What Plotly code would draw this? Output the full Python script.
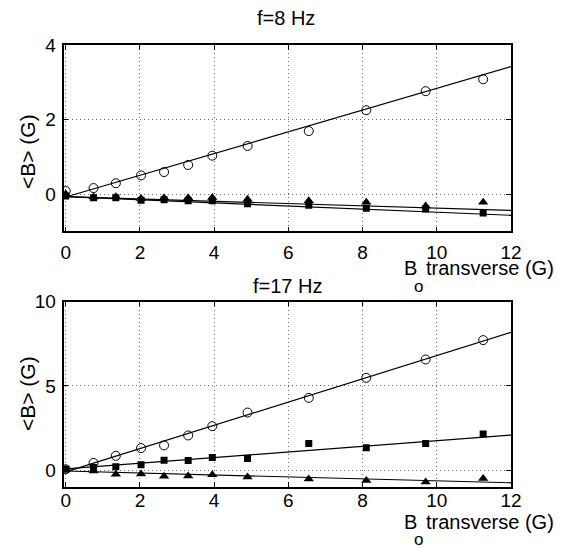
import plotly.graph_objects as go

W, H = 570, 548
OFF = 8  # page body margin shifts the figure by this many pixels

# x positions (B_o transverse, G)
b0 = [0, 0.75, 1.35, 2.03, 2.65, 3.3, 3.95, 4.9, 6.55, 8.1, 9.7, 11.25]

# f = 8 Hz
f8_circle = [0.08, 0.16, 0.29, 0.50, 0.59, 0.78, 1.03, 1.29, 1.69, 2.25, 2.76, 3.08]
f8_square = [-0.05, -0.10, -0.10, -0.17, -0.15, -0.18, -0.18, -0.26, -0.30, -0.38, -0.40, -0.51]
f8_triangle = [0.0, -0.08, -0.07, -0.12, -0.10, -0.10, -0.09, -0.14, -0.18, -0.22, -0.32, -0.22]

# f = 17 Hz
f17_circle = [0.05, 0.43, 0.85, 1.31, 1.47, 2.06, 2.61, 3.42, 4.29, 5.48, 6.57, 7.72]
f17_square = [0.05, 0.16, 0.20, 0.32, 0.59, 0.57, 0.75, 0.69, 1.58, 1.33, 1.58, 2.14]
f17_triangle = [0.05, -0.05, -0.24, -0.23, -0.36, -0.34, -0.28, -0.40, -0.53, -0.61, -0.71, -0.49]

# fitted lines (endpoints)
fit_x = [0, 12]
f8_fit_circle = [-0.08, 3.42]
f8_fit_square = [-0.07, -0.57]
f8_fit_triangle = [-0.07, -0.44]
f17_fit_circle = [-0.10, 8.18]
f17_fit_square = [0.08, 2.08]
f17_fit_triangle = [-0.05, -0.75]

FONT = "Liberation Sans, Arial, Helvetica, sans-serif"

fig = go.Figure()

def add_panel(xa, ya, circ, sq, tri, fc, fs, ft):
    for yv in (fc, fs, ft):
        fig.add_trace(go.Scatter(x=fit_x, y=yv, mode="lines",
                                 line=dict(color="black", width=1.2),
                                 xaxis=xa, yaxis=ya, showlegend=False, hoverinfo="skip"))
    fig.add_trace(go.Scatter(x=b0, y=circ, mode="markers",
                             marker=dict(symbol="circle-open", size=9, color="black",
                                         line=dict(width=1, color="black")),
                             xaxis=xa, yaxis=ya, showlegend=False))
    fig.add_trace(go.Scatter(x=b0, y=sq, mode="markers",
                             marker=dict(symbol="square", size=7, color="black"),
                             xaxis=xa, yaxis=ya, showlegend=False))
    fig.add_trace(go.Scatter(x=b0, y=tri, mode="markers",
                             marker=dict(symbol="triangle-up", size=9, color="black"),
                             xaxis=xa, yaxis=ya, showlegend=False))

add_panel("x", "y", f8_circle, f8_square, f8_triangle, f8_fit_circle, f8_fit_square, f8_fit_triangle)
add_panel("x2", "y2", f17_circle, f17_square, f17_triangle, f17_fit_circle, f17_fit_square, f17_fit_triangle)

def px(v):
    return (v - OFF) / W

def py(v):
    return 1 - (v - OFF) / H

axis_common = dict(showline=True, linecolor="black", linewidth=1.5, mirror="ticks",
                   ticks="inside", ticklen=5, tickcolor="black", automargin=False,
                   showgrid=True, gridcolor="#666", griddash="1px,3px", gridwidth=1,
                   zeroline=False, tickfont=dict(family=FONT, size=19, color="black"))

fig.update_layout(
    width=W, height=H, margin=dict(l=0, r=0, t=0, b=0, pad=0, autoexpand=False),
    paper_bgcolor="white", plot_bgcolor="white", showlegend=False,
    xaxis=dict(domain=[px(63.5), px(511)], range=[-0.06, 12], tickvals=[0, 2, 4, 6, 8, 10, 12],
               anchor="y", ticklabelstandoff=3, **axis_common),
    yaxis=dict(domain=[py(231.3), py(45)], range=[-1, 4], tickvals=[0, 2, 4],
               anchor="x", ticklabelstandoff=2, **axis_common),
    xaxis2=dict(domain=[px(63.5), px(511)], range=[-0.06, 12], tickvals=[0, 2, 4, 6, 8, 10, 12],
                anchor="y2", ticklabelstandoff=-5, **axis_common),
    yaxis2=dict(domain=[py(487), py(301.7)], range=[-1, 10], tickvals=[0, 5, 10],
                anchor="x2", ticklabelstandoff=2, **axis_common),
)

def ann(text, xp, yp, xanchor="center", yanchor="middle", angle=0, size=20):
    fig.add_annotation(text=text, x=px(xp), y=py(yp), xref="paper", yref="paper",
                       xanchor=xanchor, yanchor=yanchor, textangle=angle, showarrow=False,
                       font=dict(family=FONT, size=size, color="black"))

ann("f=8 Hz", 286, 18, size=20)
ann("f=17 Hz", 287, 286, size=20)
ann("&lt;B&gt; (G)", 27, 152, angle=-90, size=21)
ann("&lt;B&gt; (G)", 27, 394, angle=-90, size=21)
for yb, yo in ((268, 286), (522, 539)):
    ann("B", 402, yb, xanchor="left")
    ann("o", 418, yo, size=17)
    ann("transverse (G)", 556, yb, xanchor="right")

fig.write_html("out.html")
